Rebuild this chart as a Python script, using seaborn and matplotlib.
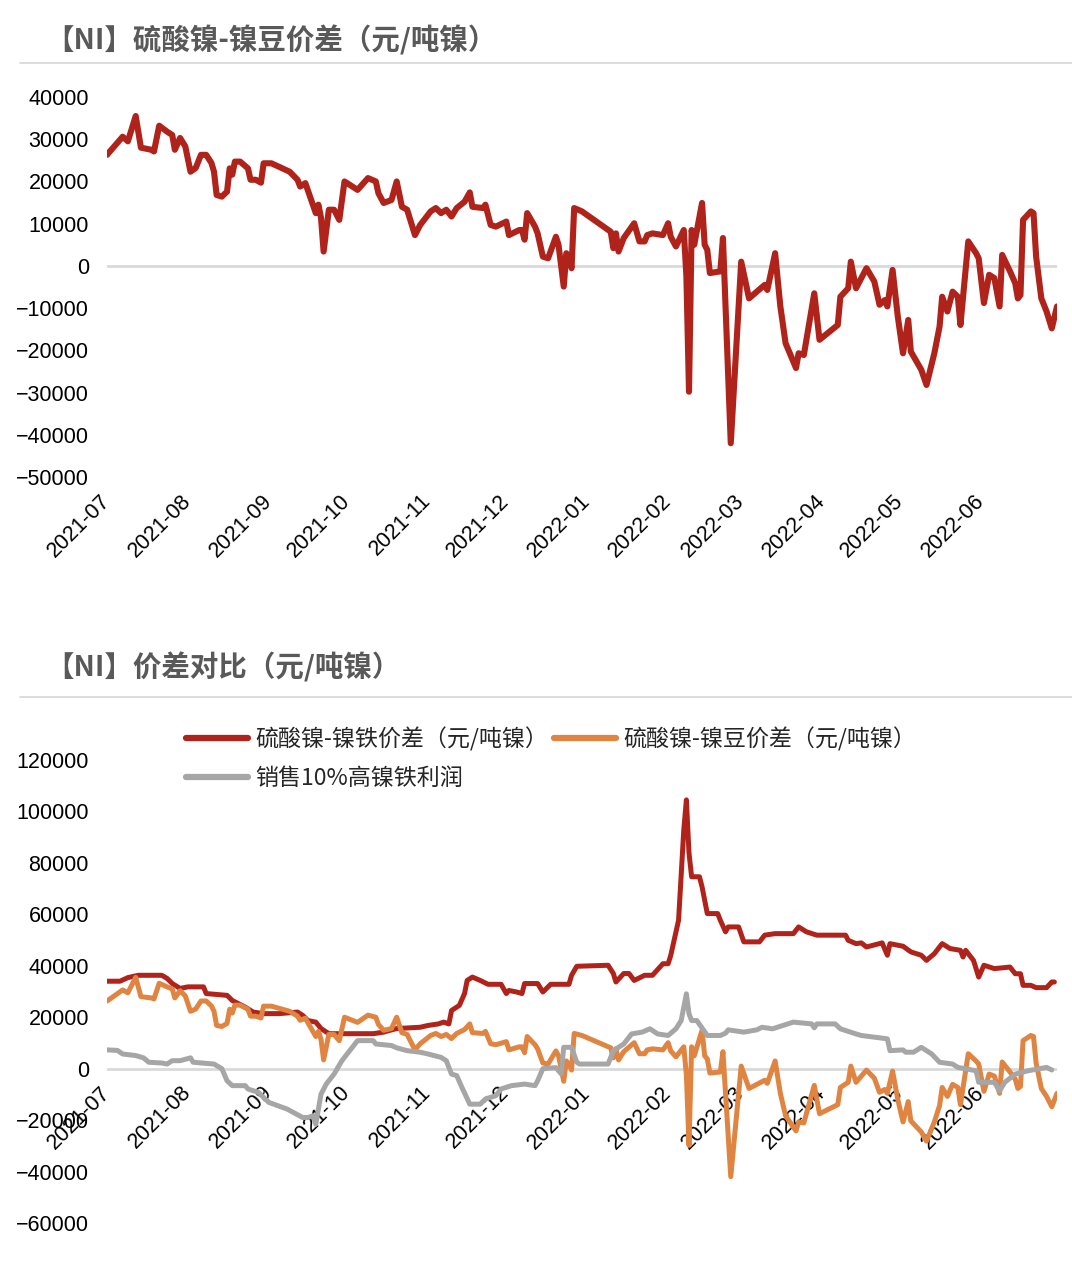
import matplotlib
matplotlib.use("Agg")
import matplotlib.pyplot as plt
import matplotlib.dates as mdates
from matplotlib.lines import Line2D
import seaborn as sns
import pandas as pd

sns.set_style("white")
plt.rcParams["font.family"] = ["Noto Sans CJK SC", "DejaVu Sans"]
plt.rcParams["axes.unicode_minus"] = True

# ---------------- data ----------------
bean_dates = [
    "2021-07-01", "2021-07-07", "2021-07-09", "2021-07-12", "2021-07-14", "2021-07-18", "2021-07-19",
    "2021-07-21", "2021-07-24", "2021-07-26", "2021-07-27", "2021-07-29", "2021-07-31", "2021-08-02",
    "2021-08-04", "2021-08-06", "2021-08-08", "2021-08-10", "2021-08-11", "2021-08-12", "2021-08-14",
    "2021-08-16", "2021-08-17", "2021-08-18", "2021-08-19", "2021-08-21", "2021-08-24", "2021-08-25",
    "2021-08-27", "2021-08-29", "2021-08-30", "2021-09-02", "2021-09-09", "2021-09-12", "2021-09-13",
    "2021-09-15", "2021-09-19", "2021-09-20", "2021-09-21", "2021-09-22", "2021-09-24", "2021-09-26",
    "2021-09-28", "2021-09-30", "2021-10-05", "2021-10-09", "2021-10-12", "2021-10-13", "2021-10-15",
    "2021-10-18", "2021-10-20", "2021-10-22", "2021-10-24", "2021-10-26", "2021-10-27", "2021-10-29",
    "2021-11-02", "2021-11-04", "2021-11-06", "2021-11-08", "2021-11-10", "2021-11-12", "2021-11-15",
    "2021-11-17", "2021-11-18", "2021-11-22", "2021-11-23", "2021-11-25", "2021-11-27", "2021-12-01",
    "2021-12-02", "2021-12-06", "2021-12-07", "2021-12-08", "2021-12-09", "2021-12-12", "2021-12-13",
    "2021-12-15", "2021-12-17", "2021-12-20", "2021-12-21", "2021-12-23", "2021-12-24", "2021-12-25",
    "2021-12-26", "2021-12-27", "2021-12-30", "2022-01-10", "2022-01-11", "2022-01-12", "2022-01-13",
    "2022-01-15", "2022-01-19", "2022-01-21", "2022-01-23", "2022-01-24", "2022-01-26", "2022-01-30",
    "2022-02-01", "2022-02-02", "2022-02-04", "2022-02-07", "2022-02-08", "2022-02-09", "2022-02-10",
    "2022-02-11", "2022-02-14", "2022-02-15", "2022-02-16", "2022-02-17", "2022-02-21", "2022-02-22",
    "2022-02-25", "2022-03-01", "2022-03-04", "2022-03-10", "2022-03-11", "2022-03-14", "2022-03-16",
    "2022-03-18", "2022-03-22", "2022-03-23", "2022-03-25", "2022-03-29", "2022-03-31", "2022-04-07",
    "2022-04-08", "2022-04-11", "2022-04-12", "2022-04-14", "2022-04-18", "2022-04-21", "2022-04-23",
    "2022-04-25", "2022-04-26", "2022-04-28", "2022-04-30", "2022-05-02", "2022-05-04", "2022-05-05",
    "2022-05-09", "2022-05-11", "2022-05-14", "2022-05-16", "2022-05-17", "2022-05-19", "2022-05-21",
    "2022-05-23", "2022-05-24", "2022-05-27", "2022-05-30", "2022-05-31", "2022-06-02", "2022-06-04",
    "2022-06-06", "2022-06-08", "2022-06-09", "2022-06-12", "2022-06-14", "2022-06-15", "2022-06-16",
    "2022-06-17", "2022-06-20", "2022-06-21", "2022-06-22", "2022-06-24", "2022-06-26", "2022-06-28",
    "2022-06-30",
]
bean_values = [
    26300, 30600, 29500, 35500, 28000, 27500, 27100,
    33200, 31800, 31000, 27500, 30300, 28300, 22300,
    23200, 26300, 26300, 24400, 22300, 16800, 16400,
    17600, 23100, 21600, 24700, 24700, 23100, 20400,
    20400, 19700, 24300, 24300, 22300, 20400, 18800,
    19600, 12500, 14500, 11400, 3400, 13300, 13300,
    10900, 20000, 18000, 20800, 20000, 17200, 14900,
    15600, 20000, 14000, 13300, 9300, 7300, 9700,
    12900, 13700, 12500, 13300, 11700, 13700, 15200,
    17400, 14000, 13700, 14500, 9700, 9300, 10500,
    7300, 8500, 8500, 6200, 12500, 9300, 7700,
    2200, 1800, 6900, 5000, -4900, 3000, 1800,
    -550, 13700, 12900, 8100, 4200, 7700, 3400,
    6600, 10100, 5800, 5800, 7300, 7700, 7300,
    10100, 6900, 4600, 8500, -2500, -29800, 8500,
    5000, 14900, 5000, 3800, -1700, -1300, 6600,
    -42000, 1000, -7700, -4500, -5700, 3000, -9600,
    -18300, -24200, -20700, -21100, -6500, -17500, -14000,
    -7300, -5300, 1000, -5300, -550, -3700, -9200,
    -8100, -9600, -950, -12000, -20700, -12800, -20300,
    -24600, -28200, -20700, -14400, -7300, -10800, -6100,
    -7300, -14000, 5800, 3000, 1800, -8800, -2100,
    -2900, -9600, 2600, -1300, -4100, -7700, -6900,
    10900, 12900, 12500, 2200, -7700, -10800, -14800,
    -9600,
]

iron_dates = [
    "2021-07-01", "2021-07-06", "2021-07-09", "2021-07-13", "2021-07-22", "2021-07-24", "2021-07-26",
    "2021-07-29", "2021-08-01", "2021-08-07", "2021-08-08", "2021-08-16", "2021-08-18", "2021-08-23",
    "2021-08-26", "2021-08-30", "2021-09-05", "2021-09-12", "2021-09-14", "2021-09-16", "2021-09-19",
    "2021-09-21", "2021-09-24", "2021-10-11", "2021-10-15", "2021-10-17", "2021-10-20", "2021-10-29",
    "2021-11-01", "2021-11-05", "2021-11-07", "2021-11-09", "2021-11-10", "2021-11-13", "2021-11-15",
    "2021-11-16", "2021-11-18", "2021-11-21", "2021-11-24", "2021-11-29", "2021-12-01", "2021-12-02",
    "2021-12-05", "2021-12-07", "2021-12-08", "2021-12-13", "2021-12-15", "2021-12-18", "2021-12-25",
    "2021-12-26", "2021-12-28", "2022-01-09", "2022-01-11", "2022-01-12", "2022-01-15", "2022-01-17",
    "2022-01-19", "2022-01-23", "2022-01-26", "2022-01-30", "2022-02-01", "2022-02-02", "2022-02-05",
    "2022-02-07", "2022-02-08", "2022-02-09", "2022-02-10", "2022-02-13", "2022-02-14", "2022-02-16",
    "2022-02-20", "2022-02-21", "2022-02-23", "2022-02-24", "2022-02-28", "2022-03-02", "2022-03-08",
    "2022-03-10", "2022-03-14", "2022-03-21", "2022-03-23", "2022-03-26", "2022-03-30", "2022-04-07",
    "2022-04-10", "2022-04-11", "2022-04-14", "2022-04-16", "2022-04-18", "2022-04-24", "2022-04-26",
    "2022-04-27", "2022-05-02", "2022-05-05", "2022-05-09", "2022-05-11", "2022-05-14", "2022-05-17",
    "2022-05-20", "2022-05-24", "2022-05-25", "2022-05-26", "2022-05-29", "2022-05-31", "2022-06-02",
    "2022-06-06", "2022-06-12", "2022-06-14", "2022-06-16", "2022-06-17", "2022-06-20", "2022-06-22",
    "2022-06-26", "2022-06-28", "2022-06-29",
]
iron_values = [
    34000, 34000, 35400, 36300, 36300, 35100, 33100,
    31200, 31800, 31800, 29200, 28500, 26500, 23900,
    22000, 21400, 21400, 22000, 20700, 18700, 18100,
    15600, 13600, 13600, 14200, 14800, 15600, 16100,
    16800, 17400, 18100, 17400, 22600, 24600, 29200,
    34300, 35600, 34300, 32800, 32800, 29200, 30400,
    29800, 29200, 33100, 33100, 29800, 32800, 32800,
    36300, 39800, 40200, 37000, 33700, 37000, 37000,
    34300, 36300, 36300, 40800, 40800, 44000, 57700,
    92800, 104500, 83800, 74600, 74600, 70700, 60300,
    60300, 57700, 53200, 55100, 55100, 49300, 49300,
    51900, 52500, 52500, 55100, 53200, 51900, 51900,
    51900, 49900, 48600, 48900, 47300, 48900, 44100,
    48600, 47600, 45400, 44100, 42100, 44700, 48600,
    46700, 46000, 43400, 46000, 42100, 35600, 40200,
    38900, 39500, 36900, 36900, 32400, 32400, 31500,
    31500, 33700, 33700,
]

profit_dates = [
    "2021-07-01", "2021-07-05", "2021-07-07", "2021-07-12", "2021-07-15", "2021-07-17", "2021-07-22",
    "2021-07-24", "2021-07-26", "2021-07-29", "2021-08-02", "2021-08-03", "2021-08-11", "2021-08-14",
    "2021-08-16", "2021-08-18", "2021-08-23", "2021-08-24", "2021-08-28", "2021-08-30", "2021-09-01",
    "2021-09-08", "2021-09-14", "2021-09-16", "2021-09-18", "2021-09-19", "2021-09-21", "2021-09-23",
    "2021-09-26", "2021-09-29", "2021-10-02", "2021-10-05", "2021-10-11", "2021-10-12", "2021-10-18",
    "2021-10-20", "2021-10-24", "2021-10-29", "2021-11-01", "2021-11-06", "2021-11-08", "2021-11-10",
    "2021-11-12", "2021-11-14", "2021-11-17", "2021-11-21", "2021-11-23", "2021-11-27", "2021-11-29",
    "2021-12-03", "2021-12-08", "2021-12-12", "2021-12-13", "2021-12-15", "2021-12-20", "2021-12-22",
    "2021-12-23", "2021-12-26", "2021-12-28", "2021-12-29", "2022-01-09", "2022-01-11", "2022-01-15",
    "2022-01-18", "2022-01-22", "2022-01-25", "2022-01-28", "2022-02-01", "2022-02-04", "2022-02-06",
    "2022-02-08", "2022-02-09", "2022-02-10", "2022-02-12", "2022-02-16", "2022-02-21", "2022-02-23",
    "2022-02-24", "2022-03-02", "2022-03-07", "2022-03-09", "2022-03-13", "2022-03-17", "2022-03-21",
    "2022-03-23", "2022-03-28", "2022-03-29", "2022-03-30", "2022-04-06", "2022-04-08", "2022-04-14",
    "2022-04-16", "2022-04-26", "2022-04-27", "2022-05-02", "2022-05-03", "2022-05-06", "2022-05-09",
    "2022-05-13", "2022-05-16", "2022-05-21", "2022-05-23", "2022-05-30", "2022-05-31", "2022-06-06",
    "2022-06-08", "2022-06-10", "2022-06-14", "2022-06-19", "2022-06-26", "2022-06-28",
]
profit_values = [
    7300, 7100, 5700, 5100, 4200, 2500, 2200,
    1800, 3100, 3100, 4200, 2500, 1800, 0,
    -4700, -6600, -6600, -7900, -9200, -11200, -13100,
    -15700, -19000, -19000, -18300, -21600, -9900, -6000,
    -2100, 3100, 7000, 10900, 10900, 9600, 9000,
    8100, 7000, 6400, 5700, 4400, 3100, -2100,
    -2700, -7300, -13800, -13800, -11800, -10500, -7900,
    -6600, -6000, -6600, -4700, 0, 400, -2000,
    8300, 8300, 2500, 1800, 1800, 7000, 9600,
    13500, 14200, 15500, 13500, 12900, 15500, 18700,
    29100, 21300, 18700, 18700, 12900, 12900, 13800,
    15100, 14200, 15100, 16100, 15500, 16800, 18100,
    17900, 17400, 15900, 17400, 17400, 15500, 13500,
    12900, 11600, 7000, 7300, 6400, 6400, 8300,
    5700, 2500, 1800, 500, -800, -5300, -5300,
    -8600, -5300, -2100, -800, 500, -500,
]

label_iron = "硫酸镍-镍铁价差（元/吨镍）"
label_bean = "硫酸镍-镍豆价差（元/吨镍）"
label_profit = "销售10%高镍铁利润"
title_top = "【NI】硫酸镍-镍豆价差（元/吨镍）"
title_bottom = "【NI】价差对比（元/吨镍）"

top_yticks = list(range(-50000, 40001, 10000))
bottom_yticks = list(range(-60000, 120001, 20000))

RED = "#B0231A"
ORANGE = "#E08442"
GREY = "#A6A6A6"
GRID = "#D9D9D9"

bean = pd.DataFrame({"date": pd.to_datetime(bean_dates), "value": bean_values})
iron = pd.DataFrame({"date": pd.to_datetime(iron_dates), "value": iron_values})
profit = pd.DataFrame({"date": pd.to_datetime(profit_dates), "value": profit_values})

# ---------------- figure ----------------
W, H = 1072, 1288
fig = plt.figure(figsize=(W / 100, H / 100), dpi=100)

def fx(px):
    return px / W

def fy(py):
    return 1 - py / H

ax1 = fig.add_axes([fx(107), fy(477), fx(1057 - 107), (477 - 97) / H])
ax2 = fig.add_axes([fx(107), fy(1223), fx(1057 - 107), (1223 - 760) / H])

xmin = pd.Timestamp("2021-07-01")
xmax = pd.Timestamp("2022-06-30")

line_kw = dict(solid_capstyle="round", solid_joinstyle="round")

# top chart
ax1.axhline(0, color=GRID, lw=2, zorder=0)
sns.lineplot(data=bean, x="date", y="value", ax=ax1, color=RED, linewidth=4.4, **line_kw)
ax1.set_ylim(-50000, 40000)
ax1.set_yticks(top_yticks)

# bottom chart
ax2.axhline(0, color=GRID, lw=2, zorder=0)
sns.lineplot(data=iron, x="date", y="value", ax=ax2, color=RED, linewidth=3.6,
             label=label_iron, legend=False, **line_kw)
sns.lineplot(data=bean, x="date", y="value", ax=ax2, color=ORANGE, linewidth=3.6,
             label=label_bean, legend=False, **line_kw)
sns.lineplot(data=profit, x="date", y="value", ax=ax2, color=GREY, linewidth=3.6,
             label=label_profit, legend=False, **line_kw)
ax2.set_ylim(-60000, 120000)
ax2.set_yticks(bottom_yticks)
ax2.spines["bottom"].set_position(("data", 0))

for ax in (ax1, ax2):
    ax.set_xlim(xmin, xmax)
    ax.xaxis.set_major_locator(mdates.MonthLocator())
    ax.xaxis.set_major_formatter(mdates.DateFormatter("%Y-%m"))
    for s in ax.spines.values():
        s.set_visible(False)
    ax.set_xlabel("")
    ax.set_ylabel("")
    ax.grid(False)
    ax.tick_params(axis="y", length=0, pad=13)
    ax.tick_params(axis="x", length=0, pad=15)
    for lab in ax.get_yticklabels():
        lab.set_fontfamily(["Liberation Sans", "DejaVu Sans"])
        lab.set_fontsize(15.5)
        lab.set_color("black")
    for lab in ax.get_xticklabels():
        lab.set_fontfamily(["Liberation Sans", "DejaVu Sans"])
        lab.set_fontsize(15.5)
        lab.set_rotation(45)
        lab.set_ha("right")
        lab.set_va("center")
        lab.set_rotation_mode("anchor")
        lab.set_color("black")

# titles and separator lines
fig.text(fx(45), fy(40), title_top, ha="left", va="center", fontsize=20.5,
         fontweight="bold", color="#595959")
fig.text(fx(45), fy(667), title_bottom, ha="left", va="center", fontsize=20.5,
         fontweight="bold", color="#595959")
fig.add_artist(Line2D([fx(20), 1], [fy(63), fy(63)], color=GRID, lw=1.3))
fig.add_artist(Line2D([fx(20), 1], [fy(697), fy(697)], color=GRID, lw=1.3))

# legend
handles = [
    Line2D([], [], color=RED, lw=4.5, solid_capstyle="round"),
    Line2D([], [], color=ORANGE, lw=4.5, solid_capstyle="round"),
    Line2D([], [], color=GREY, lw=4.5, solid_capstyle="round"),
]
labels = [label_iron, label_bean, label_profit]
order = [0, 2, 1]
fig.legend([handles[i] for i in order], [labels[i] for i in order], ncol=2,
           loc="upper left", bbox_to_anchor=(fx(186), fy(727)), frameon=False,
           fontsize=16.6, handlelength=2.7, handletextpad=0.3, columnspacing=0.25,
           labelspacing=0.7, borderpad=0, borderaxespad=0)

fig.savefig("out.png", dpi=100, facecolor="white")
